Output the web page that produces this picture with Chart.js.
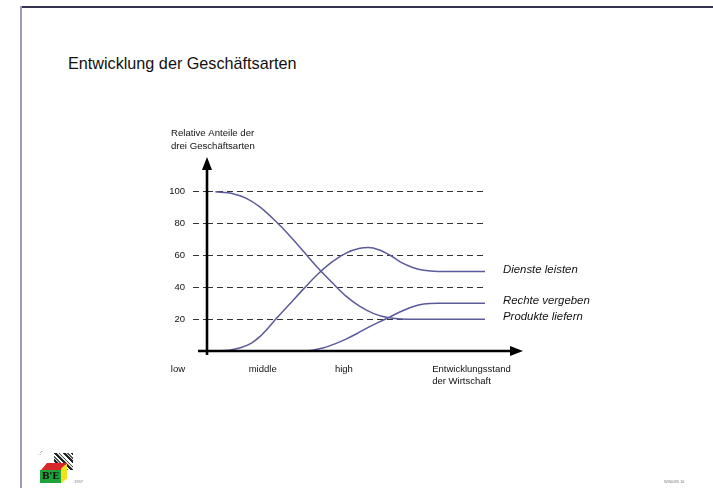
<!DOCTYPE html>
<html>
<head>
<meta charset="utf-8">
<script src="https://cdn.jsdelivr.net/npm/chart.js@4"></script>
<style>
  html, body { margin: 0; padding: 0; background: #fff; }
  #wrap { position: relative; width: 713px; height: 488px; overflow: hidden; font-family: "Liberation Sans", Arial, sans-serif; }
  #chart { position: absolute; left: 0; top: 0; }
  .frame-top { position: absolute; left: 21px; top: 6px; width: 692px; height: 2px; background: #34344f; }
  .frame-left { position: absolute; left: 20px; top: 6px; width: 2px; height: 482px; background: #9c9cb8; }
  .title { position: absolute; left: 68px; top: 54px; font-size: 16.2px; color: #111; white-space: nowrap; }
  /* kleines Logo unten links */
  .logo { position: absolute; left: 36px; top: 450px; width: 40px; height: 36px; }
  .logo .noise { position: absolute; left: 18px; top: 3px; width: 19px; height: 17px;
    background: repeating-linear-gradient(45deg, #222 0 2px, #ddd 2px 3px, #555 3px 4px, #fff 4px 6px); }
  .logo .top { position: absolute; left: 8px; top: 13px; width: 20px; height: 7px; background: #d8262a; transform: skewX(-40deg); }
  .logo .front { position: absolute; left: 4px; top: 20px; width: 21px; height: 13px; background: #1fa33a;
    font: bold 9px "DejaVu Serif", serif; color: #111; text-align: center; line-height: 13px; }
  .logo .side { position: absolute; left: 25px; top: 16px; width: 6px; height: 15px; background: #f2e21c; transform: skewY(-40deg); }
  .logo .dots { position: absolute; left: 2px; top: 0; width: 10px; height: 12px; color: #444; font-size: 6px; }
  .tiny { position: absolute; font-size: 4px; color: #777; white-space: nowrap; }
</style>
</head>
<body>
<div id="wrap">
  <div class="frame-top"></div>
  <div class="frame-left"></div>
  <div class="title">Entwicklung der Geschäftsarten</div>
  <canvas id="chart" width="713" height="488"></canvas>
  <div class="logo">
    <div class="dots">.:'</div>
    <div class="noise"></div>
    <div class="top"></div>
    <div class="side"></div>
    <div class="front">B'E</div>
  </div>
  <div class="tiny" style="left:74px; top:479px;">1997</div>
  <div class="tiny" style="left:664px; top:479px;">W30085 16</div>
</div>

<script>
// ===== Daten =====
// x = Entwicklungsstand der Wirtschaft (0..100), y = relativer Anteil in %
const produkteX = [3, 9, 14, 19, 25, 30, 35, 40, 45, 50, 55, 60, 65, 72, 100];
const produkteY = [100, 99, 96, 90.5, 81, 72, 62, 52, 43, 34.5, 28, 23.5, 21, 20, 20];

const diensteX = [3, 8, 12, 16, 19, 22, 25, 30, 35, 40, 45, 50, 55, 58, 62, 66, 70, 74, 78, 83, 100];
const diensteY = [0, 0.5, 2, 5, 9, 14.5, 20.5, 30, 39.5, 48.5, 56, 61.5, 64.5, 65, 63.5, 60, 55.5, 52.5, 50.7, 50, 50];

const rechteX = [3, 35, 38, 42, 46, 50, 54, 58, 62, 66, 70, 74, 78, 83, 100];
const rechteY = [0, 0, 0.5, 2, 4.5, 7.5, 11, 14.8, 18.3, 21.6, 25, 27.8, 29.5, 30, 30];

const seriesNames = ['Dienste leisten', 'Rechte vergeben', 'Produkte liefern'];
const yTicks = [20, 40, 60, 80, 100];
const xCategoryLabels = ['low', 'middle', 'high', 'Entwicklungsstand\nder Wirtschaft'];
const xCategoryValues = [-13, 15, 46, 81];
const yAxisTitle = ['Relative Anteile der', 'drei Geschäftsarten'];

const LINE_COLOR = '#5b5a9c';
const FONT = '"Liberation Sans", Arial, sans-serif';

function toPoints(xs, ys) {
    return xs.map((x, i) => ({ x: x, y: ys[i] }));
}

function lineSet(label, xs, ys) {
    return {
        label: label,
        data: toPoints(xs, ys),
        borderColor: LINE_COLOR,
        borderWidth: 1.5,
        pointRadius: 0,
        fill: false,
        cubicInterpolationMode: 'monotone'
    };
}

// Achsen mit Pfeilen, Beschriftungen und Reihennamen
const decorPlugin = {
    id: 'decor',
    afterDraw(chart) {
        const ctx = chart.ctx;
        const xs = chart.scales.x;
        const ys = chart.scales.y;
        const left = xs.getPixelForValue(xs.min);
        const bottom = ys.getPixelForValue(0);
        const top = ys.getPixelForValue(ys.max);
        const right = xs.getPixelForValue(xs.max);

        ctx.save();
        ctx.fillStyle = '#000';
        ctx.strokeStyle = '#000';
        ctx.lineWidth = 2.6;

        // y-Achse
        ctx.beginPath();
        ctx.moveTo(left, bottom + 4);
        ctx.lineTo(left, top + 10);
        ctx.stroke();
        ctx.beginPath();
        ctx.moveTo(left, top - 3);
        ctx.lineTo(left - 5, top + 10);
        ctx.lineTo(left + 5, top + 10);
        ctx.closePath();
        ctx.fill();

        // x-Achse
        ctx.beginPath();
        ctx.moveTo(left - 9, bottom);
        ctx.lineTo(right + 27, bottom);
        ctx.stroke();
        ctx.beginPath();
        ctx.moveTo(right + 38, bottom);
        ctx.lineTo(right + 25, bottom - 5);
        ctx.lineTo(right + 25, bottom + 5);
        ctx.closePath();
        ctx.fill();

        // Achsentitel oben
        ctx.fillStyle = '#111';
        ctx.font = '9.6px ' + FONT;
        ctx.textAlign = 'left';
        ctx.textBaseline = 'middle';
        yAxisTitle.forEach((t, i) => ctx.fillText(t, left - 36, top - 27 + i * 13));

        // Kategorien unter der x-Achse
        ctx.font = '9.5px ' + FONT;
        xCategoryLabels.forEach((lbl, i) => {
            const px = xs.getPixelForValue(xCategoryValues[i]);
            lbl.split('\n').forEach((line, j) => ctx.fillText(line, px, bottom + 18 + j * 12));
        });

        // Reihennamen am Linienende
        ctx.font = 'italic 11.4px ' + FONT;
        chart.data.datasets.forEach(ds => {
            const last = ds.data[ds.data.length - 1];
            ctx.fillText(ds.label, xs.getPixelForValue(last.x) + 18, ys.getPixelForValue(last.y) - 2);
        });
        ctx.restore();
    }
};

const chart = new Chart(document.getElementById('chart'), {
    type: 'line',
    data: {
        datasets: [
            lineSet(seriesNames[0], diensteX, diensteY),
            lineSet(seriesNames[1], rechteX, rechteY),
            lineSet(seriesNames[2], produkteX, produkteY)
        ]
    },
    options: {
        responsive: false,
        animation: false,
        layout: { padding: { left: 0, top: 160, right: 228, bottom: 137 } },
        plugins: {
            legend: { display: false },
            tooltip: { enabled: false },
            title: { display: false }
        },
        scales: {
            x: {
                type: 'linear',
                min: 0,
                max: 100,
                display: false
            },
            y: {
                type: 'linear',
                min: 0,
                max: 120,
                afterBuildTicks: axis => { axis.ticks = yTicks.map(v => ({ value: v })); },
                afterFit: axis => { axis.width = 207; },
                border: { display: false, dash: [6, 4] },
                grid: {
                    color: '#333',
                    lineWidth: 1,
                    tickLength: 14,
                    tickColor: '#333',
                    tickWidth: 1,
                    tickBorderDash: [6, 4]
                },
                ticks: {
                    color: '#111',
                    padding: 8,
                    font: { family: FONT, size: 9.5 }
                }
            }
        }
    },
    plugins: [decorPlugin]
});
</script>
</body>
</html>
